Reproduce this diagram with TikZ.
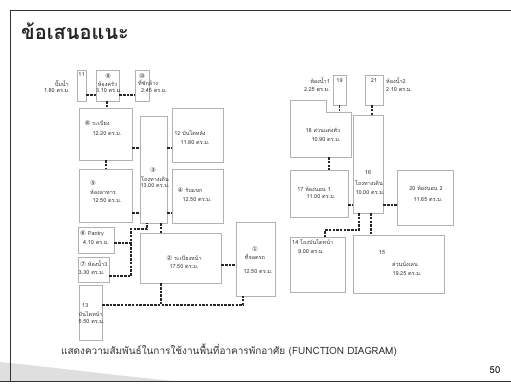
\documentclass[tikz,border=0pt]{standalone}
\usepackage{fontspec}
\newfontfamily\thai[Script=Thai]{Loma}
\newfontfamily\dejavu{DejaVu Sans}
\newcommand\cn[1]{{\dejavu\fontsize{6.5}{7}\selectfont #1}}
\newcommand\roomnode[5]{\node[roombox, minimum width={(#4-#2)*1pt}, minimum height={(#5-#3)*1pt}] (#1) at ({(#2+#4)/2},{(#3+#5)/2}) {};}
\begin{document}
\begin{tikzpicture}[x=1pt,y=-1pt,
  roombox/.style={draw=gray!60, line width=0.6pt, inner sep=0pt},
  conn/.style={draw=black!85, line width=1.2pt, dash pattern=on 2.5pt off 1.2pt},
  lbl/.style={font=\thai\fontsize{5.5}{6}\selectfont, text=black!80, inner sep=0pt},
  frame/.style={draw=black!80, line width=0.9pt}]
\useasboundingbox (0,0) rectangle (511,387);
% background swoosh and frame
\fill[gray!25] (0,362) .. controls (60,368) and (120,376) .. (175,381) -- (0,381) -- cycle;
\draw[frame] (511,10) -- (10,10) -- (10,381);
\draw[frame] (0,381) -- (511,381);
\node[font=\thai\bfseries\fontsize{20}{22}\selectfont, text=black!85, anchor=west, inner sep=0pt] (title) at (21,31) {ข้อเสนอแนะ};

% ---------- left diagram ----------
\roomnode{r11}{77}{70}{86}{101}
\roomnode{r9}{96}{70}{119}{101}
\roomnode{r10}{135}{70}{149}{101}
\roomnode{r8}{79}{108}{132}{160}
\roomnode{r5}{79}{169}{132}{222}
\roomnode{r3}{140}{116}{167}{223}
\roomnode{r12}{172}{108}{223}{162}
\roomnode{r4}{172}{169}{223}{223}
\roomnode{r6}{78}{227}{114}{253}
\roomnode{r7}{78}{257}{109}{282}
\roomnode{r13}{79}{285}{102}{340}
\roomnode{r2}{140}{233}{221}{283}
\roomnode{r1}{236}{222}{275}{296}

\node[lbl] (t11) at (81.5,75) {11};
\node[lbl, anchor=east] (t11a) at (69,84) {ปั๊มน้ำ};
\node[lbl, anchor=east] (t11b) at (70,91) {1.80 ตร.ม.};
\node[lbl] (t9) at (108,76) {\cn{⑨}};
\node[lbl] (t9a) at (107.5,84) {ห้องครัว};
\node[lbl] (t9b) at (109,91) {3.10 ตร.ม.};
\node[lbl] (t10) at (142,76) {\cn{⑩}};
\node[lbl, anchor=west] (t10a) at (138,83) {ที่ซักล้าง};
\node[lbl, anchor=west] (t10b) at (141,91) {2.45 ตร.ม.};
\node[lbl] (t8a) at (97,123) {\cn{⑧} ระเบียง};
\node[lbl] (t8b) at (107,134) {12.20 ตร.ม.};
\node[lbl] (t5) at (93,183) {\cn{⑤}};
\node[lbl] (t5a) at (103,192) {ห้องอาหาร};
\node[lbl] (t5b) at (107,201) {12.50 ตร.ม.};
\node[lbl] (t3) at (153,170) {\cn{③}};
\node[lbl] (t3a) at (155,179) {โถงทางเดิน};
\node[lbl] (t3b) at (155,186) {13.00 ตร.ม.};
\node[lbl] (t12a) at (190,133) {12 บันไดหลัง};
\node[lbl] (t12b) at (195,143) {11.80 ตร.ม.};
\node[lbl] (t4a) at (190,190) {\cn{④} รับแขก};
\node[lbl] (t4b) at (197,200) {12.50 ตร.ม.};
\node[lbl, anchor=west] (t6a) at (80,234) {\cn{⑥} Pantry};
\node[lbl, anchor=west] (t6b) at (83,243) {4.10 ตร.ม.};
\node[lbl, anchor=west] (t7a) at (80,264) {\cn{⑦} ห้องน้ำ3};
\node[lbl, anchor=west] (t7b) at (78.5,273) {3.30 ตร.ม.};
\node[lbl, anchor=west] (t13) at (82,306) {13};
\node[lbl, anchor=west] (t13a) at (78.5,314) {บันไดหน้า};
\node[lbl, anchor=west] (t13b) at (78.5,322) {5.50 ตร.ม.};
\node[lbl] (t2a) at (184,258) {\cn{②} ระเบียงหน้า};
\node[lbl] (t2b) at (184,267) {17.50 ตร.ม.};
\node[lbl] (t1) at (255,249) {\cn{①}};
\node[lbl] (t1a) at (255,257) {ที่จอดรถ};
\node[lbl] (t1b) at (258,272) {12.50 ตร.ม.};

\draw[conn] (r11.east |- 0,95) -- (r9.west |- 0,95);
\draw[conn] (r9.east |- 0,95) -- (r10.west |- 0,95);
\draw[conn] (r9.south -| 107,0) -- (r8.north -| 107,0);
\draw[conn] (r8.east |- 0,148) -- (r3.west |- 0,148);
\draw[conn] (r3.east |- 0,148) -- (r12.west |- 0,148);
\draw[conn] (r8.south -| 106,0) -- (r5.north -| 106,0);
\draw[conn] (r5.east |- 0,213) -- (r3.west |- 0,213);
\draw[conn] (r3.east |- 0,213) -- (r4.west |- 0,213);
\draw[conn] (r3.south -| 161,0) -- (r2.north -| 161,0);
\draw[conn] (r6.east |- 0,243) -- (131,243) -- (131,229) -- (147,229) -- (r3.south -| 147,0);
\draw[conn] (r7.east |- 0,276) -| (131,243);
\draw[conn] (r2.east |- 0,265) -- (r1.west |- 0,265);
\draw[conn] (r13.east |- 0,305) -| (r1.south -| 243,0);
\draw[conn] (r2.south -| 161,0) -- (161,305);

% ---------- right diagram ----------
\roomnode{r19}{333}{75}{346}{105}
\roomnode{r21}{365}{75}{383}{105}
\node[inner sep=0pt, minimum width=61pt, minimum height=57pt] (r18) at (320.5,128.5) {};
\draw[roombox] (290,100) -- (326,100) -- (326,112) -- (351,112) -- (351,157) -- (290,157) -- cycle;
\coordinate (n18) at (339.5,112);
\roomnode{r16}{353}{115}{383}{213}
\roomnode{r17}{290}{170}{348}{217}
\roomnode{r20}{397}{170}{453}{225}
\roomnode{r14}{290}{237}{345}{292}
\roomnode{r15}{353}{235}{444}{293}

\node[lbl] (t19) at (339.5,81) {19};
\node[lbl] (t21) at (374,81) {21};
\node[lbl, anchor=east] (t19a) at (330,81) {ห้องน้ำ1};
\node[lbl, anchor=east] (t19b) at (330,90) {2.25 ตร.ม.};
\node[lbl, anchor=west] (t21a) at (386,81) {ห้องน้ำ2};
\node[lbl, anchor=west] (t21b) at (386,90) {2.10 ตร.ม.};
\node[lbl] (t18a) at (323,130) {18 ส่วนแต่งตัว};
\node[lbl] (t18b) at (326,140) {10.90 ตร.ม.};
\node[lbl] (t16) at (368,173) {16};
\node[lbl] (t16a) at (369,183) {โถงทางเดิน};
\node[lbl] (t16b) at (370,193) {10.00 ตร.ม.};
\node[lbl] (t17a) at (314,189) {17 ห้องนอน 1};
\node[lbl] (t17b) at (321,197) {11.00 ตร.ม.};
\node[lbl] (t20a) at (426,188) {20 ห้องนอน 2};
\node[lbl] (t20b) at (428,200) {11.65 ตร.ม.};
\node[lbl, anchor=west] (t14a) at (292,242) {14 โถงบันไดหน้า};
\node[lbl, anchor=west] (t14b) at (298,252) {9.00 ตร.ม.};
\node[lbl] (t15) at (382,253) {15};
\node[lbl] (t15a) at (405,264) {ส่วนนั่งเล่น};
\node[lbl] (t15b) at (407,274) {19.25 ตร.ม.};

\draw[conn] (r19.south) -- (n18);
\draw[conn] (r21.south -| 372,0) -- (r16.north -| 372,0);
\draw[conn] (r18.south -| 329,0) -- (r17.north -| 329,0);
\draw[conn] (r17.east |- 0,205) -- (r16.west |- 0,205);
\draw[conn] (r16.east |- 0,205) -- (r20.west |- 0,205);
\draw[conn] (r16.south -| 359,0) -- (359,230) -| (r14.north -| 325,0);
\draw[conn] (r16.south -| 371,0) -- (r15.north -| 371,0);

% ---------- caption ----------
\node[font=\thai\fontsize{10}{12}\selectfont, text=black!80, inner sep=0pt] (cap) at (229,350) {แสดงความสัมพันธ์ในการใช้งานพื้นที่อาคารพักอาศัย (FUNCTION DIAGRAM)};
\node[font=\thai\fontsize{9.5}{11}\selectfont, inner sep=0pt] (pg) at (495,370) {50};
\end{tikzpicture}
\end{document}
